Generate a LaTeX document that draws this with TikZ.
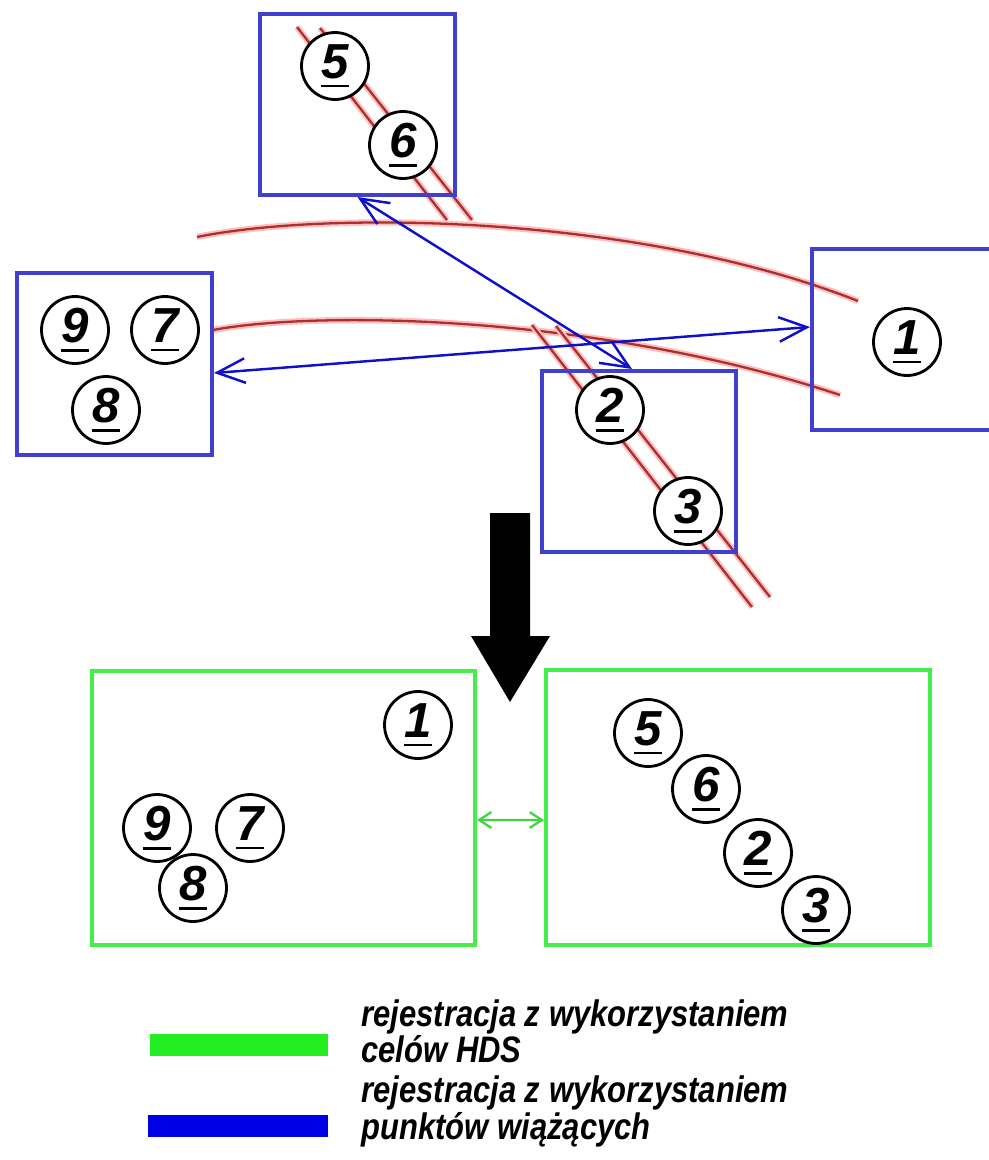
\documentclass[tikz,border=0pt]{standalone}
\usepackage{fontspec}
\setmainfont{Liberation Sans}
\newfontfamily\legfont[FakeStretch=0.84]{Liberation Sans}
\usetikzlibrary{arrows.meta}
\definecolor{boxblue}{RGB}{64,64,204}
\definecolor{arrblue}{RGB}{16,16,200}
\definecolor{boxgreen}{RGB}{72,236,72}
\definecolor{leggreen}{RGB}{34,238,34}
\definecolor{legblue}{RGB}{0,0,230}
\definecolor{redline}{RGB}{168,48,48}
\definecolor{redglow}{RGB}{255,190,190}
\newcommand\cnum[1]{{\bfseries\itshape\sbox0{#1}\rlap{\usebox0}\rule[-5pt]{\wd0}{1.2pt}}}
\tikzset{
  bbox/.style={draw=boxblue,line width=2.3pt,rectangle,inner sep=0pt},
  gbox/.style={draw=boxgreen,line width=2.3pt,rectangle,inner sep=0pt,minimum width=7.66cm,minimum height=5.48cm},
  cnode/.style={circle,draw=black,fill=white,line width=1.6pt,minimum size=1.34cm,inner sep=0pt,font=\fontsize{28}{28}\selectfont},
  redl/.style={draw=redline,line width=1.3pt,preaction={draw=redglow,line width=3.6pt}},
  barrow/.style={draw=arrblue,line width=1.4pt,{Straight Barb[length=16pt,width=14pt]}-{Straight Barb[length=16pt,width=14pt]}},
  garrow/.style={draw=boxgreen!90!black,line width=1.3pt,{Straight Barb[length=7pt,width=9pt]}-{Straight Barb[length=7pt,width=9pt]}},
  legtext/.style={anchor=base west,inner sep=0pt,font=\legfont\fontsize{21}{21}\selectfont\bfseries\itshape},
}
\begin{document}
\begin{tikzpicture}[x=0.02cm,y=-0.02cm]
\useasboundingbox (0,0) rectangle (989,1160);
% red curves
\draw[redl] (197,237) .. controls (330,210) and (640,215) .. (858,301);
\draw[redl] (213,330) .. controls (320,310) and (600,315) .. (840,395);
\draw[redl] (297,27) -- (447,220);
\draw[redl] (320,28) -- (472,220);
\draw[redl] (532,325) -- (752,607);
\draw[redl] (556,326) -- (770,597);
% blue boxes
\node[bbox,minimum width=3.9cm,minimum height=3.62cm] (tb) at (357.5,104.5) {};
\node[bbox,minimum width=3.9cm,minimum height=3.64cm] (lb) at (114.5,364) {};
\node[bbox,minimum width=3.88cm,minimum height=3.62cm] (mb) at (639,461.5) {};
\node[bbox,minimum width=3.9cm,minimum height=3.62cm] (rb) at (909.5,339.5) {};
% circles top
\node[cnode] (t5) at (335,66) {\cnum{5}};
\node[cnode] (t6) at (403,145) {\cnum{6}};
\node[cnode] (l9) at (75,330) {\cnum{9}};
\node[cnode] (l7) at (165,330) {\cnum{7}};
\node[cnode] (l8) at (106,410) {\cnum{8}};
\node[cnode] (r1) at (907,342) {\cnum{1}};
\node[cnode] (m2) at (610,410) {\cnum{2}};
\node[cnode] (m3) at (688,511) {\cnum{3}};
% blue arrows
\draw[barrow] (tb.south) -- ([xshift=-0.14cm]mb.north);
\draw[barrow] ([yshift=-0.18cm]lb.east) -- ([yshift=0.25cm]rb.west);
% big black arrow
\fill[black] (490,513) -- (530,513) -- (530,636) -- (550,636) -- (510,702) -- (471,636) -- (490,636) -- cycle;
% green boxes
\node[gbox] (gl) at (283.5,808) {};
\node[gbox,minimum width=7.68cm,minimum height=5.5cm] (gr) at (738,807.5) {};
\draw[garrow] ([yshift=-0.24cm]gl.east) -- ([yshift=-0.25cm]gr.west);
\node[cnode] (g1) at (418,725) {\cnum{1}};
\node[cnode] (g9) at (157,828) {\cnum{9}};
\node[cnode] (g7) at (250,828) {\cnum{7}};
\node[cnode] (g8) at (193,888) {\cnum{8}};
\node[cnode] (g5) at (648,733) {\cnum{5}};
\node[cnode] (g6) at (706,789) {\cnum{6}};
\node[cnode] (g2) at (758,853) {\cnum{2}};
\node[cnode] (g3) at (816,910) {\cnum{3}};
% legend
\node[fill=leggreen,minimum width=3.56cm,minimum height=0.44cm,inner sep=0pt] (lg) at (239,1045) {};
\node[fill=legblue,minimum width=3.6cm,minimum height=0.44cm,inner sep=0pt] (lbl) at (238,1126) {};
\node[legtext] (t1) at (361,1026) {rejestracja z wykorzystaniem};
\node[legtext] (t2) at (361,1062) {celów HDS};
\node[legtext] (t3) at (361,1102) {rejestracja z wykorzystaniem};
\node[legtext] (t4) at (361,1139) {punktów wiążących};
\end{tikzpicture}
\end{document}
